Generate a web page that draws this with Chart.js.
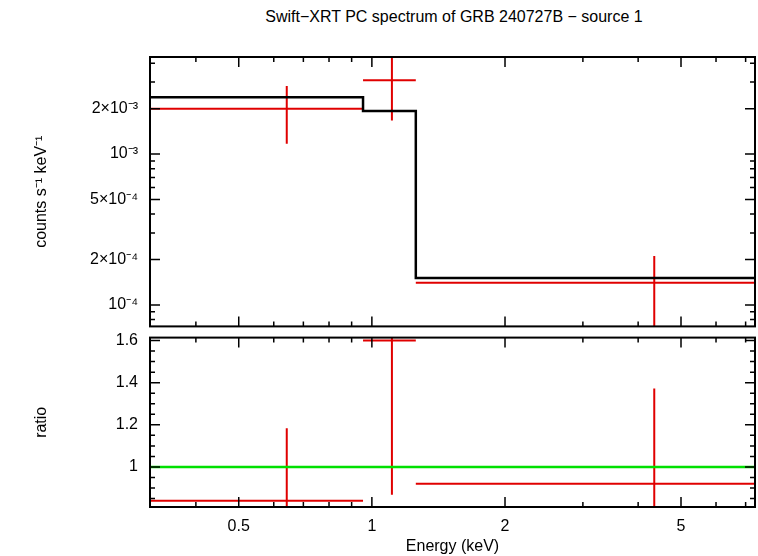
<!DOCTYPE html>
<html><head><meta charset="utf-8">
<script src="https://cdn.jsdelivr.net/npm/chart.js@4"></script>
<style>
body{margin:0;background:#fff;width:758px;height:556px;position:relative;overflow:hidden;font-family:"Liberation Sans",Arial,sans-serif}
#title{position:absolute;top:8px;left:0;width:758px;padding-left:150px;box-sizing:border-box;text-align:center;font-size:16px}
canvas{position:absolute;left:0}
#top{top:0}
#bot{top:324px}
</style></head><body>
<div id="title">Swift−XRT PC spectrum of GRB 240727B − source 1</div>
<canvas id="top" width="758" height="340"></canvas>
<canvas id="bot" width="758" height="232"></canvas>
<script>
// energy bins (keV)
const binLo = [0.315, 0.955, 1.257];
const binHi = [0.955, 1.257, 7.35];
const binMid = [0.642, 1.11, 4.35];
const rate = [2.0e-3, 3.09e-3, 1.40e-4];
const rateHi = [2.83e-3, 5e-3, 2.11e-4];
const rateLo = [1.17e-3, 1.67e-3, 5e-5];
const model = [2.38e-3, 1.93e-3, 1.51e-4];
const ratio = [0.84, 1.6, 0.92];
const ratioHi = [1.184, 1.8, 1.373];
const ratioLo = [0.7, 0.868, 0.7];
const xTicks = [0.5, 1, 2, 5];
const yTicksTop = [1e-4, 2e-4, 5e-4, 1e-3, 2e-3];
const yTicksBot = [1, 1.2, 1.4, 1.6];
const xMin = 0.315, xMax = 7.35;

const FONT = {family:'"Liberation Sans", Arial, sans-serif', size:16};
Chart.defaults.font = FONT;
Chart.defaults.color = '#000';

function sup(n){return String(n).replace('-','⁻').replace(/\d/g,d=>'⁰¹²³⁴⁵⁶⁷⁸⁹'[d]);}
function sci(v){
  const e = Math.floor(Math.log10(v)+1e-9), m = Math.round(v/Math.pow(10,e));
  return (m===1?'':m+'×')+'10'+sup(e);
}

function errSets(y, lo, hi){
  const ds=[];
  for(let i=0;i<binMid.length;i++){
    ds.push({data:[{x:binLo[i],y:y[i]},{x:binHi[i],y:y[i]}]});
    ds.push({data:[{x:binMid[i],y:lo[i]},{x:binMid[i],y:hi[i]}]});
  }
  return ds.map(d=>Object.assign(d,{borderColor:'#e00000',borderWidth:2,showLine:true,pointRadius:0}));
}
function stepData(){
  const pts=[];
  for(let i=0;i<binLo.length;i++){pts.push({x:binLo[i],y:model[i]});pts.push({x:binHi[i],y:model[i]});}
  return pts;
}

function minorLog(min,max){
  const out=[];
  for(let e=Math.floor(Math.log10(min));e<=Math.ceil(Math.log10(max));e++)
    for(let m=1;m<10;m++){const v=m*Math.pow(10,e);if(v>=min&&v<=max)out.push(v);}
  return out;
}

const ticksPlugin={
  id:'inTicks',
  afterDraw(chart,args,opts){
    const c=chart.ctx,a=chart.chartArea;
    c.save();c.strokeStyle='#000';c.lineWidth=1.5;c.beginPath();
    const xs=chart.scales.x;
    minorLog(xMin,xMax).forEach(v=>{
      const p=xs.getPixelForValue(v),L=xTicks.includes(v)?10:5;
      c.moveTo(p,a.bottom);c.lineTo(p,a.bottom-L);c.moveTo(p,a.top);c.lineTo(p,a.top+L);
    });
    const ys=chart.scales.y;
    opts.yMinor.forEach(v=>{
      const p=ys.getPixelForValue(v);if(p<a.top-0.5||p>a.bottom+0.5)return;
      const L=opts.yMajor.some(t=>Math.abs(t-v)<1e-12)?10:5;
      c.moveTo(a.left,p);c.lineTo(a.left+L,p);c.moveTo(a.right,p);c.lineTo(a.right-L,p);
    });
    c.stroke();
    c.lineWidth=2;c.strokeRect(a.left,a.top,a.right-a.left,a.bottom-a.top);
    c.restore();
  }
};

const xScale=(show)=>({type:'logarithmic',min:xMin,max:xMax,bounds:'data',
  display:show,grid:{display:false},border:{display:false},
  afterBuildTicks:s=>{s.ticks=xTicks.map(v=>({value:v}));},
  ticks:{callback:v=>String(v),maxRotation:0,padding:2},
  title:{display:show,text:'Energy (keV)',padding:0},
  afterFit:s=>{if(show)s.height=49;}
});

new Chart(document.getElementById('top'),{
  type:'scatter',
  data:{datasets:[
    {data:stepData(),showLine:true,borderColor:'#000',borderWidth:2.5,pointRadius:0},
    ...errSets(rate,rateLo,rateHi)
  ]},
  options:{responsive:false,animation:false,
    layout:{padding:{top:57,right:3,bottom:3,left:32}},
    plugins:{legend:{display:false},tooltip:{enabled:false},
      inTicks:{yMajor:yTicksTop,yMinor:minorLog(7.2e-5,4.4e-3)}},
    scales:{
      x:xScale(false),
      y:{type:'logarithmic',min:7.2e-5,max:4.4e-3,bounds:'data',grid:{display:false},border:{display:false},
        afterBuildTicks:s=>{s.ticks=yTicksTop.map(v=>({value:v}));},
        ticks:{callback:v=>sci(v),padding:4},
        title:{display:true,text:'counts s⁻¹ keV⁻¹',padding:0},
        afterFit:s=>{s.width=118;}}
    }},
  plugins:[ticksPlugin]
});

new Chart(document.getElementById('bot'),{
  type:'scatter',
  data:{datasets:[
    {data:[{x:xMin,y:1},{x:xMax,y:1}],showLine:true,borderColor:'#00e000',borderWidth:2.5,pointRadius:0},
    ...errSets(ratio,ratioLo,ratioHi)
  ]},
  options:{responsive:false,animation:false,
    layout:{padding:{top:0,right:3,bottom:0,left:32}},
    plugins:{legend:{display:false},tooltip:{enabled:false},
      inTicks:{yMajor:yTicksBot,yMinor:[0.85,0.9,0.95,1,1.05,1.1,1.15,1.2,1.25,1.3,1.35,1.4,1.45,1.5,1.55,1.6]}},
    scales:{
      x:xScale(true),
      y:{min:0.81,max:1.614,bounds:'data',grid:{display:false},border:{display:false},
        afterBuildTicks:s=>{s.ticks=yTicksBot.map(v=>({value:v}));},
        ticks:{callback:v=>String(v),padding:4},
        title:{display:true,text:'ratio',padding:0},
        afterFit:s=>{s.width=118;}}
    }},
  plugins:[ticksPlugin]
});
</script>
</body></html>
